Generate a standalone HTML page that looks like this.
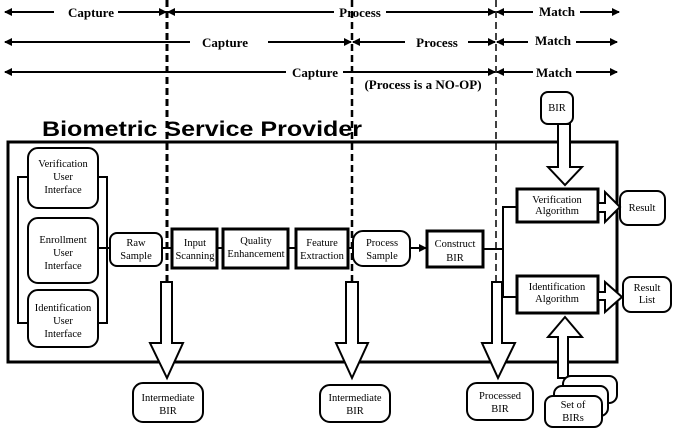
<!DOCTYPE html>
<html><head><meta charset="utf-8"><style>
body{margin:0;background:#fff;}
svg{display:block;}
.t{font-family:"Liberation Serif",serif;font-size:10.5px;text-anchor:middle;fill:#000;}
.b{font-family:"Liberation Serif",serif;font-size:13px;font-weight:bold;text-anchor:middle;fill:#000;}
</style></head><body>
<svg width="677" height="429" viewBox="0 0 677 429" xmlns="http://www.w3.org/2000/svg">
<defs>
<marker id="a" markerWidth="8" markerHeight="8" refX="7" refY="4" orient="auto" markerUnits="userSpaceOnUse"><path d="M0,0 L8,4 L0,8z" fill="#000"/></marker>
<marker id="s" markerWidth="8" markerHeight="8" refX="1" refY="4" orient="auto" markerUnits="userSpaceOnUse"><path d="M8,0 L0,4 L8,8z" fill="#000"/></marker>
</defs>
<g stroke="#000" stroke-width="2" fill="none">
<line x1="5" y1="12" x2="54" y2="12" marker-start="url(#s)"/>
<line x1="118" y1="12" x2="166" y2="12" marker-end="url(#a)"/>
<line x1="168" y1="12" x2="334" y2="12" marker-start="url(#s)"/>
<line x1="386" y1="12" x2="495" y2="12" marker-end="url(#a)"/>
<line x1="497" y1="12" x2="533" y2="12" marker-start="url(#s)"/>
<line x1="580" y1="12" x2="619" y2="12" marker-end="url(#a)"/>
<line x1="5" y1="42" x2="190" y2="42" marker-start="url(#s)"/>
<line x1="268" y1="42" x2="351" y2="42" marker-end="url(#a)"/>
<line x1="353" y1="42" x2="405" y2="42" marker-start="url(#s)"/>
<line x1="468" y1="42" x2="495" y2="42" marker-end="url(#a)"/>
<line x1="497" y1="42" x2="528" y2="42" marker-start="url(#s)"/>
<line x1="576" y1="42" x2="617" y2="42" marker-end="url(#a)"/>
<line x1="5" y1="72" x2="286" y2="72" marker-start="url(#s)"/>
<line x1="343" y1="72" x2="495" y2="72" marker-end="url(#a)"/>
<line x1="497" y1="72" x2="533" y2="72" marker-start="url(#s)"/>
<line x1="576" y1="72" x2="617" y2="72" marker-end="url(#a)"/>
</g>
<text class="b" x="91" y="17">Capture</text>
<text class="b" x="360" y="17">Process</text>
<text class="b" x="557" y="16">Match</text>
<text class="b" x="225" y="47">Capture</text>
<text class="b" x="437" y="47">Process</text>
<text class="b" x="553" y="45">Match</text>
<text class="b" x="315" y="77">Capture</text>
<text class="b" x="554" y="77">Match</text>
<text class="b" x="423" y="89">(Process is a NO-OP)</text>
<text x="42" y="136" font-family="Liberation Sans,sans-serif" font-size="21" font-weight="bold" textLength="320" lengthAdjust="spacingAndGlyphs">Biometric Service Provider</text>
<!-- dashed lines -->
<g stroke="#000" fill="none" stroke-dasharray="7,4">
<line x1="167" y1="0" x2="167" y2="282" stroke-width="3"/>
<line x1="352" y1="0" x2="352" y2="282" stroke-width="2.5"/>
<line x1="496" y1="0" x2="496" y2="282" stroke-width="1.5"/>
</g>
<g stroke="#000" stroke-width="2" fill="#fff">
<!-- main box -->
<rect x="8" y="142" width="609" height="220" fill="none" stroke-width="3"/>
<!-- bracket -->
<polyline points="28,177 18,177 18,323 28,323" fill="none"/>
<polyline points="98,177 107,177 107,323 98,323" fill="none"/>
<line x1="98" y1="248" x2="110" y2="248"/>
<rect x="28" y="148" width="70" height="60" rx="10"/>
<rect x="28" y="218" width="70" height="65" rx="10"/>
<rect x="28" y="290" width="70" height="57" rx="10"/>
<line x1="162" y1="248" x2="172" y2="248"/>
<line x1="217" y1="248" x2="223" y2="248"/>
<line x1="288" y1="248" x2="296" y2="248"/>
<line x1="348" y1="248" x2="353" y2="248"/>
<line x1="410" y1="248" x2="426" y2="248" marker-end="url(#a)"/>
<rect x="110" y="233" width="52" height="33" rx="7"/>
<rect x="172" y="229" width="45" height="39" stroke-width="3"/>
<rect x="223" y="229" width="65" height="39" stroke-width="3"/>
<rect x="296" y="229" width="52" height="39" stroke-width="3"/>
<rect x="353" y="231" width="57" height="35" rx="10"/>
<rect x="427" y="231" width="56" height="36" stroke-width="3"/>
<polyline points="483,249 503,249" fill="none"/>
<polyline points="517,207 503,207 503,297 517,297" fill="none"/>
<rect x="517" y="189" width="81" height="33" stroke-width="3"/>
<rect x="517" y="276" width="81" height="37" stroke-width="3"/>
<rect x="620" y="191" width="45" height="34" rx="8"/>
<rect x="623" y="277" width="48" height="35" rx="8"/>
<!-- BIR top -->
<rect x="541" y="92" width="32" height="32" rx="7"/>
<!-- block arrows -->
<polygon points="558,124 570,124 570,167 582,167 565,185 548,167 558,167"/>
<polygon points="598,203 605,203 605,192 620,207 605,222 605,212 598,212"/>
<polygon points="598,292 605,292 605,282 622,297 605,312 605,300 598,300"/>
<polygon points="558,378 568,378 568,337 582,337 565,317 548,337 558,337"/>
<polygon points="161,282 172,282 172,343 183,343 167,378 150,343 161,343"/>
<polygon points="346,282 358,282 358,343 368,343 352,378 336,343 346,343"/>
<polygon points="492,282 502,282 502,343 515,343 498,378 482,343 492,343"/>
<!-- bottom boxes -->
<rect x="133" y="383" width="70" height="39" rx="10"/>
<rect x="320" y="385" width="70" height="37" rx="10"/>
<rect x="467" y="383" width="66" height="37" rx="10"/>
<rect x="563" y="376" width="54" height="27" rx="8"/>
<rect x="554" y="386" width="54" height="30" rx="8"/>
<rect x="545" y="396" width="57" height="31" rx="8"/>
</g>
<text class="t" x="63" y="167">Verification</text>
<text class="t" x="63" y="180">User</text>
<text class="t" x="63" y="193">Interface</text>
<text class="t" x="63" y="243">Enrollment</text>
<text class="t" x="63" y="256">User</text>
<text class="t" x="63" y="269">Interface</text>
<text class="t" x="63" y="311">Identification</text>
<text class="t" x="63" y="324">User</text>
<text class="t" x="63" y="337">Interface</text>
<text class="t" x="136" y="246">Raw</text>
<text class="t" x="136" y="259">Sample</text>
<text class="t" x="195" y="246">Input</text>
<text class="t" x="195" y="259">Scanning</text>
<text class="t" x="256" y="244">Quality</text>
<text class="t" x="256" y="257">Enhancement</text>
<text class="t" x="322" y="246">Feature</text>
<text class="t" x="322" y="259">Extraction</text>
<text class="t" x="382" y="246">Process</text>
<text class="t" x="382" y="259">Sample</text>
<text class="t" x="455" y="247">Construct</text>
<text class="t" x="455" y="261">BIR</text>
<text class="t" x="557" y="203">Verification</text>
<text class="t" x="557" y="214">Algorithm</text>
<text class="t" x="557" y="290">Identification</text>
<text class="t" x="557" y="302">Algorithm</text>
<text class="t" x="642" y="211">Result</text>
<text class="t" x="647" y="291">Result</text>
<text class="t" x="647" y="303">List</text>
<text class="t" x="557" y="111">BIR</text>
<text class="t" x="168" y="401">Intermediate</text>
<text class="t" x="168" y="414">BIR</text>
<text class="t" x="355" y="401">Intermediate</text>
<text class="t" x="355" y="414">BIR</text>
<text class="t" x="500" y="399">Processed</text>
<text class="t" x="500" y="412">BIR</text>
<text class="t" x="573" y="408">Set of</text>
<text class="t" x="573" y="421">BIRs</text>
</svg>
</body></html>
